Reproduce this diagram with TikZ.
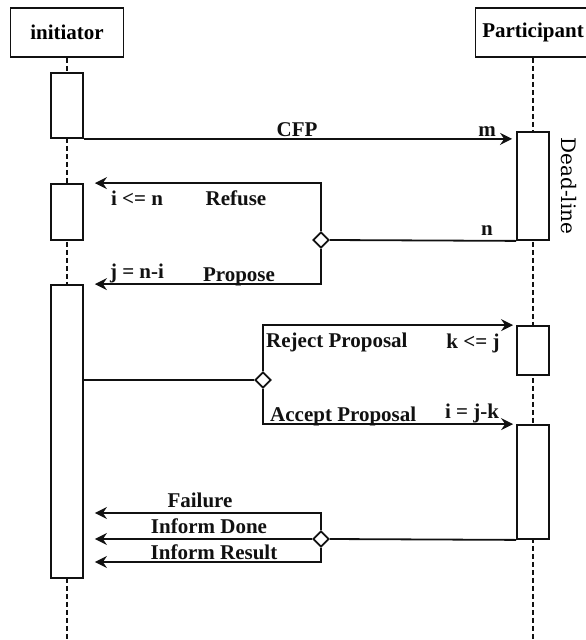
\documentclass[tikz,border=0pt]{standalone}
\usepackage{fontspec}
\setmainfont{Liberation Serif}
\newfontfamily\deadfont{DejaVu Serif}
\usepackage{xcolor}
\usepackage{tikz}
\usetikzlibrary{shapes.geometric, arrows.meta, positioning, calc}
\definecolor{ink}{HTML}{111111}
\tikzset{
    actor/.style={rectangle, draw=ink, fill=white, line width=1.8pt, minimum height=49pt, font=\fontsize{21}{24}\selectfont\bfseries},
    activation/.style={rectangle, draw=ink, fill=white, line width=1.8pt, minimum width=32pt, inner sep=0pt},
    branch/.style={diamond, draw=ink, fill=white, line width=1.8pt, minimum size=16pt, inner sep=0pt},
    lbl/.style={font=\fontsize{21}{24}\selectfont\bfseries, inner sep=0pt, text=ink, anchor=base},
    lifeline/.style={draw=ink, line width=1.8pt, dash pattern=on 5pt off 3pt},
    msg/.style={-{Stealth[length=12pt, width=12pt, inset=4pt]}, line width=1.8pt, color=ink},
    wire/.style={line width=1.8pt, color=ink}
}

\begin{document}
\begin{tikzpicture}[x=1pt, y=-1pt]
    \useasboundingbox (0,0) rectangle (586,640);
    \coordinate (bot) at (0,640);

    % Actors and lifelines
    \node [actor, minimum width=113pt] (ini) at (67,32.5) {initiator};
    \node [actor, minimum width=115pt] (par) at (533,32.5) {Participant};
    \draw [lifeline] (ini.south) -- (ini.south |- bot);
    \draw [lifeline] (par.south) -- (par.south |- bot);

    % Activations
    \node [activation, minimum height=65pt] (ini1) at (67,105.5) {};
    \node [activation, minimum height=56pt] (ini2) at (67,212) {};
    \node [activation, minimum height=293pt] (ini3) at (67,431.5) {};
    \node [activation, minimum height=108pt] (par1) at (533,186) {};
    \node [activation, minimum height=49pt] (par2) at (533,350.5) {};
    \node [activation, minimum height=114pt] (par3) at (533,482) {};
    \node [font=\deadfont\fontsize{20}{24}\selectfont, rotate=-90, inner sep=0pt] (dead) at (569,186) {Dead-line};

    % Decisions
    \node [branch] (d1) at (321,240) {};
    \node [branch] (d2) at (263,380) {};
    \node [branch] (d3) at (321,539) {};
    \coordinate (yfail) at (0,513);
    \coordinate (yres) at (0,562);

    % Labels
    \node [lbl] (cfp) at (297,136) {CFP};
    \node [lbl] (m) at (487,136) {m};
    \node [lbl] (ilen) at (137,205) {i <= n};
    \node [lbl] (refuse) at (236,205) {Refuse};
    \node [lbl] (n) at (487,235) {n};
    \node [lbl] (jni) at (137,278) {j = n-i};
    \node [lbl] (propose) at (239,281) {Propose};
    \node [lbl, anchor=base west] (reject) at (266,347) {Reject Proposal};
    \node [lbl] (klej) at (473,348) {k <= j};
    \node [lbl, anchor=base west] (accept) at (270,421) {Accept Proposal};
    \node [lbl] (ijk) at (472,418) {i = j-k};
    \node [lbl] (failure) at (200,507) {Failure};
    \node [lbl] (done) at (209,533) {Inform Done};
    \node [lbl] (result) at (214,559) {Inform Result};

    % Arrows
    \draw [msg, shorten >=4pt] (ini1.south east) -- (ini1.south east -| par1.west);
    \draw [wire] (par1.south west) -- (d1.east);
    \draw [msg, shorten >=11pt] (d1.north) |- (ini2.north east);
    \draw [msg, shorten >=11pt] (d1.south) |- (ini3.north east);

    \draw [wire] (d2.west) -- (d2.west -| ini3.east);
    \draw [msg, shorten >=3pt] (d2.north) |- (par2.north west);
    \draw [msg, shorten >=3pt] (d2.south) |- (par3.north west);

    \draw [wire] (par3.south west) -- (d3.east);
    \draw [msg, shorten >=11pt] (d3.north) |- (ini3.east |- yfail);
    \draw [msg, shorten >=11pt] (d3.west) -- (ini3.east |- d3);
    \draw [msg, shorten >=11pt] (d3.south) |- (ini3.east |- yres);
\end{tikzpicture}
\end{document}
